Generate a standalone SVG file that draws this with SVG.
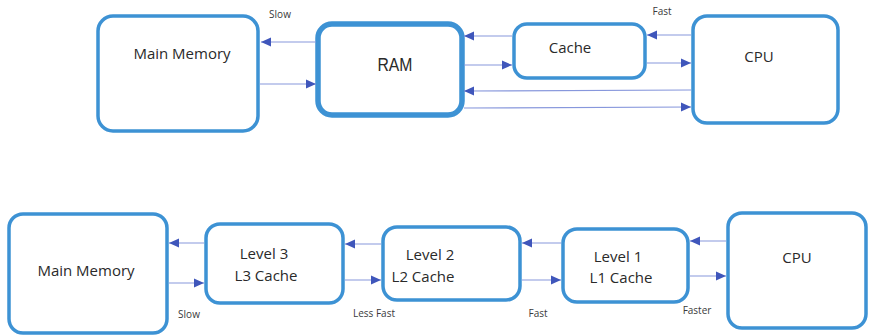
<svg xmlns="http://www.w3.org/2000/svg" width="869" height="336" viewBox="0 0 869 336">
<defs>
<marker id="ah" markerWidth="10" markerHeight="10" refX="10" refY="5" orient="auto" markerUnits="userSpaceOnUse">
<path d="M0,0.5 L10,5 L0,9.5 Z" fill="#3f56bb"/>
</marker>
</defs>
<style>
.box{fill:#fff;stroke:#3d92d4;stroke-width:3.5}
.thick{stroke-width:5.5}
.t{font-family:"Open Sans","Liberation Sans",sans-serif;font-size:15px;fill:#2a2a2a;text-anchor:middle}
.s{font-family:"Open Sans","Liberation Sans",sans-serif;font-size:10px;fill:#3a3a3a;text-anchor:middle}
.c line{stroke:#8797dc;stroke-width:1.2;marker-end:url(#ah)}
</style>
<rect width="869" height="336" fill="#fff"/>
<g id="top-main-memory"><rect class="box" x="98" y="16" width="160" height="115" rx="15"/><text class="t" x="182" y="59">Main Memory</text></g>
<g id="ram"><rect class="box thick" x="318" y="24" width="144" height="91" rx="14"/><text x="395" y="71" font-family="Liberation Sans,sans-serif" font-size="19" fill="#2a2a2a" text-anchor="middle" textLength="35" lengthAdjust="spacingAndGlyphs">RAM</text></g>
<g id="cache"><rect class="box" x="514" y="24" width="131" height="54" rx="13"/><text class="t" x="570" y="53">Cache</text></g>
<g id="top-cpu"><rect class="box" x="693" y="16" width="145" height="107" rx="14"/><text class="t" x="759" y="62">CPU</text></g>
<g id="bot-main-memory"><rect class="box" x="9" y="214" width="158" height="119" rx="14"/><text class="t" x="86" y="276">Main Memory</text></g>
<g id="l3"><rect class="box" x="206" y="224" width="137" height="79" rx="14"/><text class="t" x="264" y="259">Level 3</text><text class="t" x="266" y="281">L3 Cache</text></g>
<g id="l2"><rect class="box" x="383" y="227" width="137" height="73" rx="14"/><text class="t" x="430" y="260">Level 2</text><text class="t" x="423" y="282">L2 Cache</text></g>
<g id="l1"><rect class="box" x="563" y="229" width="125" height="73" rx="14"/><text class="t" x="618" y="262">Level 1</text><text class="t" x="621" y="283">L1 Cache</text></g>
<g id="bot-cpu"><rect class="box" x="728" y="213" width="138" height="115" rx="14"/><text class="t" x="797" y="263">CPU</text></g>
<g id="connectors" class="c">
<line x1="316" y1="42" x2="261" y2="42"/>
<line x1="260" y1="84" x2="316" y2="84"/>
<line x1="512" y1="36" x2="464" y2="36"/>
<line x1="464" y1="65" x2="512" y2="65"/>
<line x1="691" y1="35" x2="647" y2="35"/>
<line x1="647" y1="63" x2="691" y2="63"/>
<line x1="691" y1="90" x2="464" y2="91"/>
<line x1="464" y1="108" x2="691" y2="107"/>
<line x1="204" y1="243" x2="169" y2="243"/>
<line x1="169" y1="283" x2="204" y2="283"/>
<line x1="381" y1="244" x2="345" y2="244"/>
<line x1="345" y1="280" x2="381" y2="280"/>
<line x1="561" y1="243" x2="522" y2="243"/>
<line x1="522" y1="280" x2="561" y2="280"/>
<line x1="726" y1="241" x2="690" y2="241"/>
<line x1="690" y1="276" x2="726" y2="276"/>
</g>
<g id="labels">
<text class="s" x="280" y="18">Slow</text>
<text class="s" x="662" y="15">Fast</text>
<text class="s" x="189" y="318">Slow</text>
<text class="s" x="374" y="317">Less Fast</text>
<text class="s" x="538" y="317">Fast</text>
<text class="s" x="697" y="314">Faster</text>
</g>
</svg>
